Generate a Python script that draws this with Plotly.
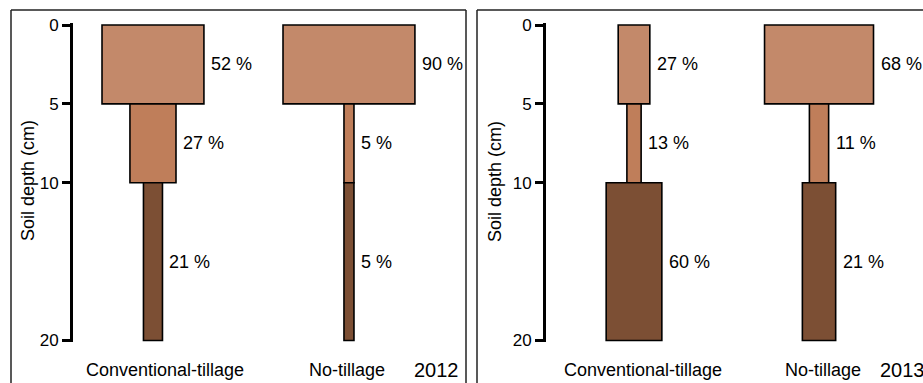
import plotly.graph_objects as go

W, H = 923, 383

# ---------------- data ----------------
depth_top = [0, 5, 10]
depth_thickness = [5, 5, 10]
categories = ["Conventional-tillage", "No-tillage"]
years = ["2012", "2013"]

pct_2012_ct = [52, 27, 21]
pct_2012_nt = [90, 5, 5]
pct_2013_ct = [27, 13, 60]
pct_2013_nt = [68, 11, 21]

# relative bar widths (x-axis units, per panel)
width_2012_ct = [0.52, 0.235, 0.097]
width_2012_nt = [0.673, 0.051, 0.051]
width_2013_ct = [0.171, 0.077, 0.301]
width_2013_nt = [0.589, 0.104, 0.180]

layer_colors = ["#C3896A", "#BF7E5A", "#7C4F34"]
y_ticks = [0, 5, 10, 20]


def px(x):
    return x / W


def py(y):
    return 1 - y / H


fig = go.Figure()

panels = [
    dict(xa="x", ya="y", xname="xaxis", yname="yaxis",
         dom_x=(73, 465), xrange=(0.592, 2.592), year=years[0],
         pcts=[pct_2012_ct, pct_2012_nt], widths=[width_2012_ct, width_2012_nt],
         title_x=28, year_x=436, year_anchor="center", cat_shift=[12, -2]),
    dict(xa="x2", ya="y2", xname="xaxis2", yname="yaxis2",
         dom_x=(546, 923), xrange=(0.5243, 2.562), year=years[1],
         pcts=[pct_2013_ct, pct_2013_nt], widths=[width_2013_ct, width_2013_nt],
         title_x=495, year_x=878, year_anchor="left", cat_shift=[9, 4]),
]

pad = 0.1
y_top_px, y_bot_px = 25, 340.5
scale = (y_bot_px - y_top_px) / 20
dom_y = (py(y_bot_px + pad * scale), py(y_top_px - pad * scale))

annotations = []
for p in panels:
    for ci, cat in enumerate(categories):
        xs = [ci + 1] * 3
        fig.add_trace(go.Bar(
            x=xs, y=depth_thickness, base=depth_top, width=p["widths"][ci],
            marker=dict(color=layer_colors, line=dict(color="black", width=1.6)),
            xaxis=p["xa"], yaxis=p["ya"], showlegend=False, hoverinfo="skip",
        ))
        for li in range(3):
            annotations.append(dict(
                x=ci + 1 + p["widths"][ci][li] / 2, y=depth_top[li] + depth_thickness[li] / 2,
                xref=p["xa"], yref=p["ya"], text=f"{p['pcts'][ci][li]} %",
                showarrow=False, xanchor="left", yanchor="middle", xshift=5,
                font=dict(size=18, color="black"),
            ))
        annotations.append(dict(
            x=ci + 1, y=py(370), xref=p["xa"], yref="paper", text=cat,
            showarrow=False, xanchor="center", yanchor="middle", xshift=p["cat_shift"][ci],
            font=dict(size=18, color="black"),
        ))
    annotations.append(dict(
        x=px(p["year_x"]), y=py(370), xref="paper", yref="paper", text=p["year"],
        showarrow=False, xanchor=p["year_anchor"], yanchor="middle",
        font=dict(size=20, color="black"),
    ))
    annotations.append(dict(
        x=px(p["title_x"]), y=py(181), xref="paper", yref="paper", text="Soil depth (cm)",
        showarrow=False, textangle=-90, xanchor="center", yanchor="middle",
        font=dict(size=18, color="black"),
    ))
    fig.layout[p["xname"]] = dict(domain=[px(p["dom_x"][0]), px(p["dom_x"][1])],
                                  range=list(p["xrange"]), visible=False, fixedrange=True,
                                  automargin=False)
    fig.layout[p["yname"]] = dict(
        domain=list(dom_y), range=[20 + pad, -pad], tickvals=y_ticks,
        showline=True, linecolor="black", linewidth=3, ticks="outside",
        ticklen=8, tickwidth=3, tickcolor="black", showgrid=False, zeroline=False,
        tickfont=dict(size=17, color="black"), anchor=p["xa"], automargin=False,
    )

fig.layout.xaxis2.anchor = "y2"
fig.layout.xaxis.anchor = "y"

shapes = []
border = dict(color="#222222", width=1.5)
# left panel frame
shapes.append(dict(type="line", xref="paper", yref="paper", x0=px(11), x1=px(11), y0=py(10), y1=py(400), line=border))
shapes.append(dict(type="line", xref="paper", yref="paper", x0=px(11), x1=px(466), y0=py(10), y1=py(10), line=border))
shapes.append(dict(type="line", xref="paper", yref="paper", x0=px(466), x1=px(466), y0=py(10), y1=py(400), line=border))
# right panel frame
shapes.append(dict(type="line", xref="paper", yref="paper", x0=px(477), x1=px(477), y0=py(10), y1=py(400), line=border))
shapes.append(dict(type="line", xref="paper", yref="paper", x0=px(477), x1=px(930), y0=py(10), y1=py(10), line=border))

fig.update_layout(
    width=W, height=H, margin=dict(l=0, r=0, t=0, b=0, pad=0, autoexpand=False),
    paper_bgcolor="white", plot_bgcolor="white", barmode="overlay",
    font=dict(family="Liberation Sans, Arial, sans-serif", color="black"),
    annotations=annotations, shapes=shapes,
)

fig.write_html("out.html")
